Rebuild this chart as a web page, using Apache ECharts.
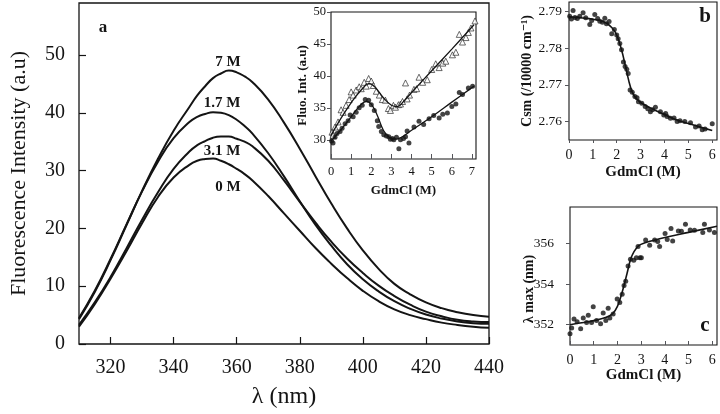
<!DOCTYPE html>
<html><head><meta charset="utf-8">
<script src="https://cdn.jsdelivr.net/npm/echarts@6/dist/echarts.min.js"></script>
<style>html,body{margin:0;padding:0;background:#fff}#c{width:720px;height:414px}</style>
</head><body><div id="c"></div>
<script>
// ---- Panel a: emission spectra ----
const wavelengths = [310,315,320,325,330,335,340,345,347.5,350,352.5,355,357.5,360,362.5,365,370,375,380,385,390,395,400,405,410,415,420,425,430,435,440];
const curve7M  = [4.3,9.0,14.5,20.5,26.5,32.0,36.9,41.0,43.0,44.6,46.0,46.8,47.3,47.0,46.3,45.3,42.3,38.3,33.8,29.0,24.3,20.0,16.2,13.0,10.4,8.6,7.2,6.2,5.5,5.0,4.7];
const curve17M = [4.5,9.2,14.7,20.6,26.4,31.5,35.6,38.4,39.3,39.8,40.1,40.0,39.6,38.8,37.7,36.4,33.0,29.0,24.7,20.6,17.0,13.8,11.2,9.1,7.4,6.1,5.1,4.4,3.9,3.6,3.5];
const curve31M = [3.3,7.2,11.6,16.5,21.5,26.2,30.3,33.3,34.4,35.1,35.7,35.9,35.9,35.5,35.0,34.2,31.7,28.3,24.6,21.0,17.7,14.8,12.3,10.1,8.3,6.8,5.6,4.8,4.2,3.9,3.8];
const curve0M  = [3.0,6.9,11.3,16.0,20.9,25.4,28.8,31.0,31.7,32.0,32.1,31.7,31.1,30.3,29.4,28.3,25.6,22.6,19.6,16.6,13.9,11.4,9.2,7.4,6.0,5.0,4.3,3.7,3.3,3.0,2.8];
const curveNames = ['7 M','1.7 M','3.1 M','0 M'];
const mainXTicks = [320,340,360,380,400,420,440];
const mainYTicks = [0,10,20,30,40,50];

// ---- Inset: fluorescence intensity vs GdmCl ----
const triG = [0.05,0.1,0.2,0.35,0.5,0.6,0.75,0.9,1.0,1.1,1.25,1.4,1.5,1.65,1.75,1.87,2.0,2.1,2.25,2.4,2.55,2.7,2.85,2.95,3.1,3.2,3.35,3.45,3.55,3.7,3.78,3.9,4.12,4.25,4.37,4.55,4.78,5.0,5.2,5.37,5.55,5.7,6.03,6.2,6.37,6.53,6.7,6.82,6.95,7.15];
const triV = [31.2,30.7,32.0,32.8,34.7,34.3,35.4,36.3,37.5,37.0,37.8,38.3,38.0,39.0,38.4,39.6,39.2,38.5,37.6,37.0,36.3,36.2,34.9,34.6,35.4,35.1,35.5,35.6,36.0,38.9,36.4,37.0,37.9,38.0,39.8,39.0,39.4,41.0,41.9,41.3,42.0,42.3,43.3,43.7,46.5,45.3,46.0,46.8,47.5,48.6];
const triFitG = [0,0.5,1.0,1.5,1.9,2.2,2.6,3.0,3.3,3.6,4.0,5.0,6.0,7.1];
const triFitV = [30.7,33.4,35.8,37.8,38.8,38.2,36.6,35.4,35.2,36.0,37.4,40.8,44.2,48.0];
const dotG = [0.03,0.1,0.2,0.3,0.45,0.55,0.7,0.85,0.95,1.1,1.25,1.4,1.55,1.7,1.87,2.0,2.15,2.3,2.37,2.5,2.62,2.75,2.87,2.95,3.05,3.12,3.25,3.37,3.45,3.6,3.7,3.78,3.87,4.12,4.37,4.6,4.87,5.1,5.37,5.55,5.78,6.0,6.2,6.37,6.53,6.82,7.03];
const dotV = [29.8,29.5,30.4,31.0,31.3,31.8,32.5,33.0,33.9,33.6,34.3,35.0,35.4,36.3,36.2,35.5,34.6,33.0,32.1,31.3,30.8,30.6,30.5,30.1,30.2,30.0,30.4,28.6,30.0,30.2,30.5,31.4,29.5,32.0,32.9,32.4,33.3,33.8,33.4,34.0,34.2,35.2,35.6,37.4,37.1,38.1,38.4];
const dotFitG = [0,0.5,1.0,1.4,1.75,2.0,2.3,2.6,2.9,3.2,3.5,4.0,5.0,6.0,7.1];
const dotFitV = [29.8,31.6,33.6,35.2,36.0,35.6,33.8,31.5,30.4,30.1,30.4,31.5,33.6,35.9,38.4];
const insetXTicks = [0,1,2,3,4,5,6,7];
const insetYTicks = [30,35,40,45,50];

// ---- Panel b: Csm vs GdmCl ----
const bG = [0.03,0.1,0.17,0.25,0.35,0.45,0.59,0.7,0.87,0.95,1.08,1.2,1.29,1.4,1.5,1.57,1.68,1.79,1.9,2.0,2.06,2.13,2.2,2.28,2.35,2.42,2.48,2.56,2.65,2.76,2.85,2.91,3.05,3.19,3.3,3.41,3.5,3.62,3.83,3.97,4.05,4.11,4.25,4.4,4.53,4.65,4.85,5.09,5.3,5.45,5.58,5.7,6.0];
const bV = [2.7886,2.7879,2.7902,2.7883,2.7880,2.7886,2.7896,2.7882,2.7864,2.7875,2.7891,2.7880,2.7873,2.7870,2.7881,2.7866,2.7872,2.7839,2.7850,2.7835,2.7825,2.7812,2.7795,2.7762,2.7750,2.7742,2.7731,2.7686,2.7680,2.7668,2.7665,2.7654,2.7650,2.7641,2.7635,2.7627,2.7632,2.7639,2.7627,2.7618,2.7622,2.7614,2.7609,2.7610,2.7600,2.7602,2.7600,2.7597,2.7585,2.7588,2.7578,2.7580,2.7594];
const bFitG = [0,0.5,1.0,1.5,1.8,2.0,2.2,2.35,2.5,2.65,2.8,3.0,3.5,4.0,4.5,5.0,5.5,6.0];
const bFitV = [2.7885,2.7882,2.7878,2.7870,2.7855,2.7835,2.7795,2.7755,2.7712,2.7680,2.7664,2.7652,2.7634,2.7619,2.7605,2.7595,2.7585,2.7576];
const bXTicks = [0,1,2,3,4,5,6];
const bYTicks = [2.76,2.77,2.78,2.79];

// ---- Panel c: lambda max vs GdmCl ----
const cG = [0,0.07,0.17,0.3,0.45,0.56,0.7,0.77,0.91,0.98,1.12,1.29,1.4,1.51,1.61,1.68,1.82,1.99,2.1,2.2,2.28,2.35,2.45,2.55,2.69,2.8,2.87,2.95,3.01,3.19,3.36,3.57,3.7,3.78,4.01,4.1,4.26,4.33,4.57,4.7,4.87,5.07,5.25,5.6,5.67,5.88,6.09];
const cV = [351.55,351.84,352.28,352.15,351.8,352.33,352.11,352.46,352.11,352.88,352.21,352.05,352.58,352.21,352.81,352.33,352.53,353.27,353.1,353.5,353.93,354.14,354.89,355.22,355.18,355.3,355.85,355.3,355.3,356.17,355.91,356.17,356.1,355.85,356.49,356.2,356.74,356.12,356.62,356.6,356.95,356.67,356.65,356.54,356.95,356.67,356.54];
const cFitG = [0,0.5,1.0,1.5,1.8,2.0,2.2,2.4,2.55,2.7,2.9,3.2,3.5,4.0,5.0,6.2];
const cFitV = [352.0,352.1,352.2,352.35,352.55,352.9,353.6,354.5,355.2,355.6,355.9,356.05,356.15,356.3,356.55,356.85];
const cXTicks = [0,1,2,3,4,5,6];
const cYTicks = [352,354,356];

const SERIF = '"Liberation Serif","DejaVu Serif",serif';
const INK = '#141414';
const zip = (a,b) => a.map((v,i)=>[v,b[i]]);

function valAxis(o){
  return Object.assign({
    type:'value', splitLine:{show:false},
    axisLine:{show:false},
    axisLabel:{color:INK, fontFamily:SERIF},
    axisTick:{lineStyle:{color:INK,width:1}},
    nameLocation:'middle',
    nameTextStyle:{color:INK, fontFamily:SERIF}
  }, o);
}

const chart = echarts.init(document.getElementById('c'), null, {renderer:'canvas'});
const lineStyleMain = {color:INK, width:2};
const fitStyle = {color:INK, width:1.3};

const option = {
  animation:false,
  backgroundColor:'#fff',
  grid:[
    {left:72, top:3, width:417, height:342, show:true, borderColor:INK, borderWidth:1.3},
    {left:331, top:12, width:145, height:147, show:true, borderColor:INK, borderWidth:1.1},
    {left:569, top:2, width:148, height:138, show:true, borderColor:INK, borderWidth:1.1},
    {left:570, top:207, width:147, height:138, show:true, borderColor:INK, borderWidth:1.1}
  ],
  xAxis:[
    valAxis({gridIndex:0, min:310, max:440,
      axisTick:{inside:true, length:7, customValues:mainXTicks, lineStyle:{color:INK,width:1.2}},
      axisLabel:{customValues:mainXTicks, fontSize:20, margin:14, color:INK, fontFamily:SERIF},
      name:'λ (nm)', nameGap:41, nameTextStyle:{fontSize:24, color:INK, fontFamily:SERIF}}),
    valAxis({gridIndex:1, min:0, max:7.2,
      axisTick:{inside:true, length:5, customValues:insetXTicks},
      axisLabel:{customValues:insetXTicks, fontSize:12.5, margin:6, color:INK, fontFamily:SERIF},
      name:'GdmCl (M)', nameGap:25, nameTextStyle:{fontSize:13, fontWeight:'bold', color:INK, fontFamily:SERIF}}),
    valAxis({gridIndex:2, min:0, max:6.2,
      axisTick:{inside:false, length:3, customValues:bXTicks},
      axisLabel:{customValues:bXTicks, fontSize:14, margin:8, color:INK, fontFamily:SERIF},
      name:'GdmCl (M)', nameGap:25, nameTextStyle:{fontSize:15, fontWeight:'bold', color:INK, fontFamily:SERIF}}),
    valAxis({gridIndex:3, min:0, max:6.2,
      axisTick:{inside:true, length:4, customValues:cXTicks},
      axisLabel:{customValues:cXTicks, fontSize:14, margin:8, color:INK, fontFamily:SERIF},
      name:'GdmCl (M)', nameGap:22, nameTextStyle:{fontSize:15, fontWeight:'bold', color:INK, fontFamily:SERIF}})
  ],
  yAxis:[
    valAxis({gridIndex:0, min:0, max:59,
      axisTick:{inside:true, length:7, customValues:mainYTicks, lineStyle:{color:INK,width:1.2}},
      axisLabel:{customValues:mainYTicks, fontSize:20, margin:14, color:INK, fontFamily:SERIF},
      name:'Fluorescence Intensity (a.u)', nameGap:49, nameTextStyle:{fontSize:22, color:INK, fontFamily:SERIF}}),
    valAxis({gridIndex:1, min:27, max:50,
      axisTick:{inside:false, length:4, customValues:insetYTicks},
      axisLabel:{customValues:insetYTicks, fontSize:12.5, margin:5, color:INK, fontFamily:SERIF},
      name:'Fluo. Int. (a.u)', nameGap:20, nameTextStyle:{fontSize:13, fontWeight:'bold', color:INK, fontFamily:SERIF}}),
    valAxis({gridIndex:2, min:2.755, max:2.7925,
      axisTick:{inside:false, length:4, customValues:bYTicks},
      axisLabel:{customValues:bYTicks, fontSize:13.5, margin:7, color:INK, fontFamily:SERIF, formatter:v=>v.toFixed(2)},
      name:'Csm (/10000 cm\u207B\u00B9)', nameGap:34, nameTextStyle:{fontSize:14, fontWeight:'bold', color:INK, fontFamily:SERIF}}),
    valAxis({gridIndex:3, min:351.0, max:357.8,
      axisTick:{inside:false, length:4, customValues:cYTicks},
      axisLabel:{customValues:cYTicks, fontSize:13.5, margin:16, color:INK, fontFamily:SERIF}})
  ],
  graphic:[
    {type:'text', x:103, y:28, style:{text:'a', font:'bold 17px '+SERIF, fill:INK, textAlign:'center', textVerticalAlign:'middle'}},
    {type:'text', x:228, y:62, style:{text:curveNames[0], font:'bold 15px '+SERIF, fill:INK, textAlign:'center', textVerticalAlign:'middle'}},
    {type:'text', x:222, y:103, style:{text:curveNames[1], font:'bold 15px '+SERIF, fill:INK, textAlign:'center', textVerticalAlign:'middle'}},
    {type:'text', x:222, y:151, style:{text:curveNames[2], font:'bold 15px '+SERIF, fill:INK, textAlign:'center', textVerticalAlign:'middle'}},
    {type:'text', x:228, y:187, style:{text:curveNames[3], font:'bold 15px '+SERIF, fill:INK, textAlign:'center', textVerticalAlign:'middle'}},
    {type:'text', x:705, y:17, style:{text:'b', font:'bold 21px '+SERIF, fill:INK, textAlign:'center', textVerticalAlign:'middle'}},
    {type:'text', x:705, y:326, style:{text:'c', font:'bold 21px '+SERIF, fill:INK, textAlign:'center', textVerticalAlign:'middle'}},
    {type:'text', x:529, y:289, rotation:Math.PI/2, style:{text:'λ max (nm)', font:'bold 14px '+SERIF, fill:INK, textAlign:'center', textVerticalAlign:'middle'}}
  ],
  series:[
    {type:'line', xAxisIndex:0, yAxisIndex:0, data:zip(wavelengths,curve7M), showSymbol:false, smooth:0.5, lineStyle:lineStyleMain},
    {type:'line', xAxisIndex:0, yAxisIndex:0, data:zip(wavelengths,curve17M), showSymbol:false, smooth:0.5, lineStyle:lineStyleMain},
    {type:'line', xAxisIndex:0, yAxisIndex:0, data:zip(wavelengths,curve31M), showSymbol:false, smooth:0.5, lineStyle:lineStyleMain},
    {type:'line', xAxisIndex:0, yAxisIndex:0, data:zip(wavelengths,curve0M), showSymbol:false, smooth:0.5, lineStyle:lineStyleMain},

    {type:'line', xAxisIndex:1, yAxisIndex:1, data:zip(triFitG,triFitV), showSymbol:false, smooth:0.4, lineStyle:fitStyle},
    {type:'line', xAxisIndex:1, yAxisIndex:1, data:zip(dotFitG,dotFitV), showSymbol:false, smooth:0.4, lineStyle:fitStyle},
    {type:'scatter', xAxisIndex:1, yAxisIndex:1, data:zip(triG,triV), symbol:'triangle', symbolSize:6,
      itemStyle:{color:'#fff', borderColor:INK, borderWidth:0.8}},
    {type:'scatter', xAxisIndex:1, yAxisIndex:1, data:zip(dotG,dotV), symbol:'circle', symbolSize:5, itemStyle:{color:INK}},

    {type:'line', xAxisIndex:2, yAxisIndex:2, data:zip(bFitG,bFitV), showSymbol:false, smooth:0.4, lineStyle:{color:INK,width:1.6}},
    {type:'scatter', xAxisIndex:2, yAxisIndex:2, data:zip(bG,bV), symbol:'circle', symbolSize:5, itemStyle:{color:INK}},

    {type:'line', xAxisIndex:3, yAxisIndex:3, data:zip(cFitG,cFitV), showSymbol:false, smooth:0.4, lineStyle:{color:INK,width:1.6}},
    {type:'scatter', xAxisIndex:3, yAxisIndex:3, data:zip(cG,cV), symbol:'circle', symbolSize:5, itemStyle:{color:INK}}
  ]
};
chart.setOption(option);
</script>
</body></html>
